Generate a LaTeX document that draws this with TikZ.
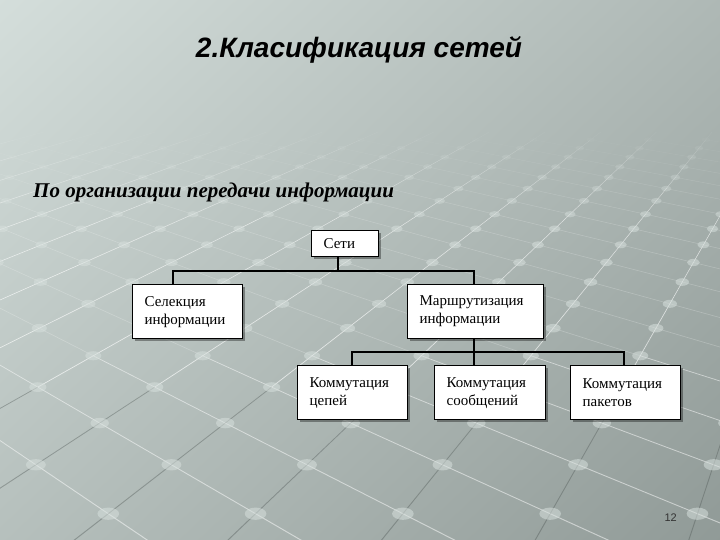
\documentclass[tikz,border=0pt]{standalone}
\usepackage{fontspec}
\setmainfont{Liberation Serif}
\newfontfamily\arialf{Liberation Sans}
\usetikzlibrary{shadows}

\definecolor{gdark}{RGB}{80,88,86}
\definecolor{gdot}{RGB}{214,223,220}

\pgfdeclarefunctionalshading{bgshade}{\pgfpoint{-50bp}{-50bp}}{\pgfpoint{50bp}{50bp}}{}{
  0.6 mul exch -0.75 mul add 188 add 255 div
  dup 1 gt {pop 1} if
  dup 0.039 sub exch dup 0.012 sub
}

\newcommand{\gproj}[4]{%
  \pgfmathsetmacro#3{50+850*(#1-(#2))/(#1+#2)}%
  \pgfmathsetmacro#4{-100+1700/(#1+#2)}}

\tikzset{
  boxnode/.style={draw=black, line width=1.3pt, fill=white, rectangle,
    inner xsep=12pt, inner ysep=0pt, align=left, anchor=north west,
    font=\fontsize{15}{18}\selectfont,
    drop shadow={shadow xshift=2.5pt, shadow yshift=-2.5pt, fill=black, opacity=0.35}},
  conn/.style={draw=black, line width=1.2pt},
}

\begin{document}
\begin{tikzpicture}[x=1pt,y=-1pt]
\useasboundingbox (0,0) rectangle (720,540);
\shade[shading=bgshade] (0,0) rectangle (720,540);

% perspective grid background
\begin{scope}
\clip (0,0) rectangle (720,540);
\foreach \i in {-2,...,24}{
  \foreach \j in {-5,...,13}{
    \pgfmathsetmacro{\u}{1.48+0.24*\i}
    \pgfmathsetmacro{\v}{1.05+0.24*\j}
    \pgfmathsetmacro{\S}{\u+\v}
    \ifdim\S pt>2pt \ifdim\S pt<7.4pt
      \pgfmathsetmacro{\al}{max(0,min(1,(7.3-\S)/2.2))}
      \pgfmathsetmacro{\vn}{\v+0.24}
      \pgfmathsetmacro{\un}{\u+0.24}
      \gproj{\u}{\v}{\ax}{\ay}
      \gproj{\u}{\vn}{\bx}{\by}
      \gproj{\un}{\v}{\cx}{\cy}
      \pgfmathsetmacro{\lw}{2.6/(\S+0.12)}
      \pgfmathsetmacro{\rx}{30/\S}
      \pgfmathsetmacro{\ry}{17/\S}
      \pgfmathsetmacro{\od}{0.55*\al}
      \ifdim\S pt<3.7pt
        \pgfmathsetmacro{\oa}{0.5*\al}
      \else
        \pgfmathsetmacro{\oa}{0.22*\al}
      \fi
      \pgfmathsetmacro{\ob}{0.65*\al}
      \draw[white, line width=\lw pt, opacity=\oa] (\ax,\ay) -- (\bx,\by);
      \ifdim\S pt<3.3pt
        \draw[gdark, line width=\lw pt, opacity=0.4] (\ax,\ay) -- (\cx,\cy);
      \else
        \draw[white, line width=\lw pt, opacity=\ob] (\ax,\ay) -- (\cx,\cy);
      \fi
      \fill[gdot, opacity=\od] (\ax,\ay) ellipse [x radius=\rx, y radius=\ry];
    \fi\fi
  }
}
\end{scope}

% titles
\node[font=\arialf\bfseries\itshape\fontsize{28}{32}\selectfont, anchor=base] (title) at (359,58) {2.Класификация сетей};
\node[font=\bfseries\itshape\fontsize{21}{24}\selectfont, anchor=base west, inner sep=0pt] (sub) at (33,197) {По организации передачи информации};
\node[font=\arialf\fontsize{11}{12}\selectfont, text=black!80, anchor=base east, inner sep=0pt] (pg) at (677,521) {12};

% boxes
\node[boxnode, minimum width=67pt, minimum height=26pt, text width=43pt] (seti) at (311,230) {Сети};
\node[boxnode, minimum width=110pt, minimum height=54pt, text width=86pt] (sel) at (132,284) {Селекция\\информации};
\node[boxnode, minimum width=136pt, minimum height=54pt, text width=112pt] (mar) at (407,284) {Маршрутизация\\информации};
\node[boxnode, minimum width=110pt, minimum height=54pt, text width=86pt] (cep) at (297,365) {Коммутация\\цепей};
\node[boxnode, minimum width=111pt, minimum height=54pt, text width=87pt] (soob) at (434,365) {Коммутация\\сообщений};
\node[boxnode, minimum width=110pt, minimum height=54pt, text width=86pt] (pak) at (570,365) {Коммутация\\пакетов};

% connectors
\coordinate (b1L) at (173,271);
\coordinate (b1M) at (338,271);
\coordinate (b1R) at (474,271);
\coordinate (b2L) at (352,352);
\coordinate (b2M) at (474,352);
\coordinate (b2R) at (624,352);
\draw[conn] (b1M |- seti.south) -- (b1M);
\draw[conn] (b1L |- sel.north) -- (b1L) -- (b1R) -- (b1R |- mar.north);
\draw[conn] (b2M |- mar.south) -- (b2M);
\draw[conn] (b2L |- cep.north) -- (b2L) -- (b2R) -- (b2R |- pak.north);
\draw[conn] (b2M) -- (b2M |- soob.north);
\end{tikzpicture}
\end{document}
